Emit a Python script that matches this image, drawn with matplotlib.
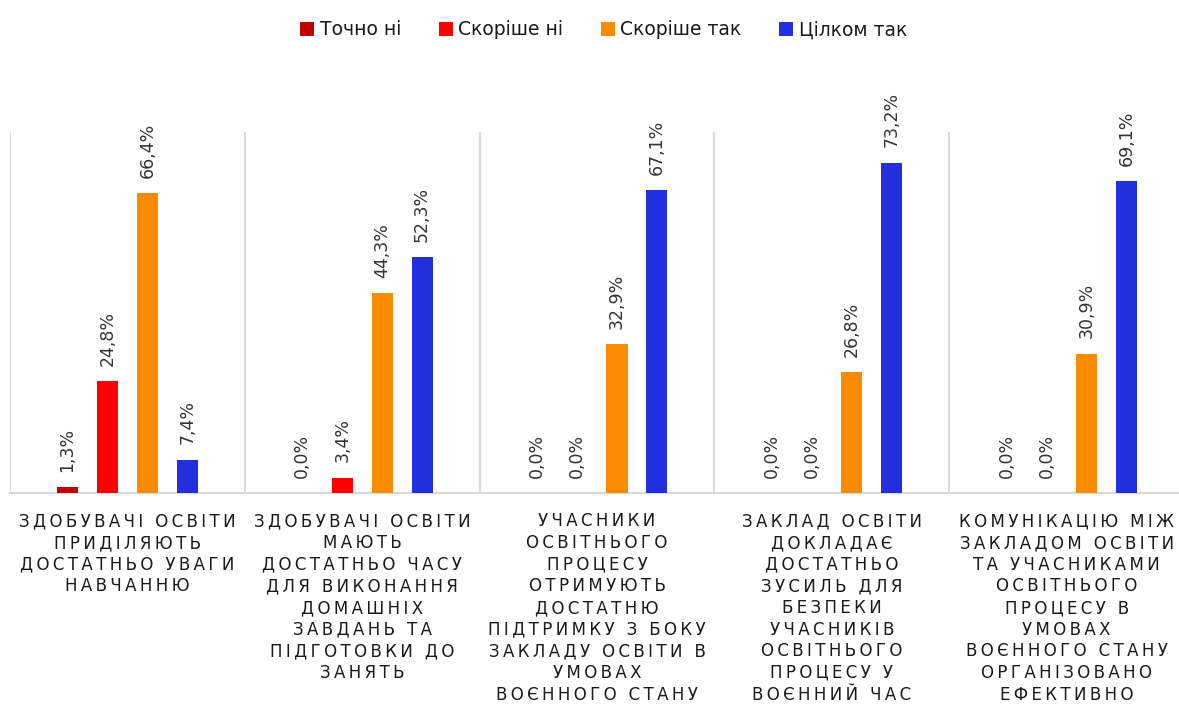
import numpy as np
from matplotlib import pyplot as plt
from matplotlib.patches import Patch

#
# Data
#

categories = [
    "ЗДОБУВАЧІ ОСВІТИ\nПРИДІЛЯЮТЬ\nДОСТАТНЬО УВАГИ\nНАВЧАННЮ",
    "ЗДОБУВАЧІ ОСВІТИ\nМАЮТЬ\nДОСТАТНЬО ЧАСУ\nДЛЯ ВИКОНАННЯ\nДОМАШНІХ\nЗАВДАНЬ ТА\nПІДГОТОВКИ ДО\nЗАНЯТЬ",
    "УЧАСНИКИ\nОСВІТНЬОГО\nПРОЦЕСУ\nОТРИМУЮТЬ\nДОСТАТНЮ\nПІДТРИМКУ З БОКУ\nЗАКЛАДУ ОСВІТИ В\nУМОВАХ\nВОЄННОГО СТАНУ",
    "ЗАКЛАД ОСВІТИ\nДОКЛАДАЄ\nДОСТАТНЬО\nЗУСИЛЬ ДЛЯ\nБЕЗПЕКИ\nУЧАСНИКІВ\nОСВІТНЬОГО\nПРОЦЕСУ У\nВОЄННИЙ ЧАС",
    "КОМУНІКАЦІЮ МІЖ\nЗАКЛАДОМ ОСВІТИ\nТА УЧАСНИКАМИ\nОСВІТНЬОГО\nПРОЦЕСУ В\nУМОВАХ\nВОЄННОГО СТАНУ\nОРГАНІЗОВАНО\nЕФЕКТИВНО",
]

series_names = ["Точно ні", "Скоріше ні", "Скоріше так", "Цілком так"]
tochno_ni = [1.3, 0.0, 0.0, 0.0, 0.0]
skorishe_ni = [24.8, 3.4, 0.0, 0.0, 0.0]
skorishe_tak = [66.4, 44.3, 32.9, 26.8, 30.9]
tsilkom_tak = [7.4, 52.3, 67.1, 73.2, 69.1]

COLOURS = ["#C00000", "#FF0000", "#F98B00", "#212FDF"]
GRID = "#D9D9D9"

#
# Plot
#


def spaced(s):
    # rough letter-spacing for the category labels
    return "\n".join("\u2009".join(line) for line in s.split("\n"))


fig = plt.figure(figsize=(11.79, 7.08), dpi=100)
ax = fig.add_axes([0.0085, 0.3037, 0.9958, 0.51])

x = np.arange(len(categories))
width = 0.09
step = 0.17
all_vals = [tochno_ni, skorishe_ni, skorishe_tak, tsilkom_tak]

for i, (vals, col) in enumerate(zip(all_vals, COLOURS)):
    pos = x + (i - 1.5) * step
    ax.bar(pos, vals, width, color=col, zorder=3)
    for px, v in zip(pos, vals):
        ax.annotate(f"{v:.1f}%".replace(".", ","), (px, v),
                    xytext=(0, 11), textcoords="offset points",
                    rotation=90, ha="center", va="bottom",
                    fontsize=12.5, color="#333333")

ax.set_xlim(-0.5, 4.5)
ax.set_ylim(0, 80)
ax.set_xticks(x)
ax.set_xticklabels([spaced(c) for c in categories], fontsize=12,
                   color="#1a1a1a", linespacing=1.26)
ax.tick_params(axis="x", length=0, pad=14)
ax.set_xticks(np.arange(-0.5, 5), minor=True)
ax.tick_params(axis="x", which="minor", length=0)
ax.grid(axis="x", which="minor", color=GRID, lw=1.5, zorder=0)
ax.set_yticks([])
for s in ["top", "right", "left"]:
    ax.spines[s].set_visible(False)
ax.spines["bottom"].set_color(GRID)
ax.spines["bottom"].set_linewidth(1.5)

handles = [Patch(facecolor=c, label=n) for c, n in zip(COLOURS, series_names)]
fig.legend(handles=handles, loc="upper center", bbox_to_anchor=(0.512, 0.995),
           ncol=4, frameon=False, fontsize=13.5, handlelength=0.75,
           handleheight=0.75, handletextpad=0.3, columnspacing=2.0,
           labelcolor="#1a1a1a")

fig.savefig("out.png", dpi=100)
